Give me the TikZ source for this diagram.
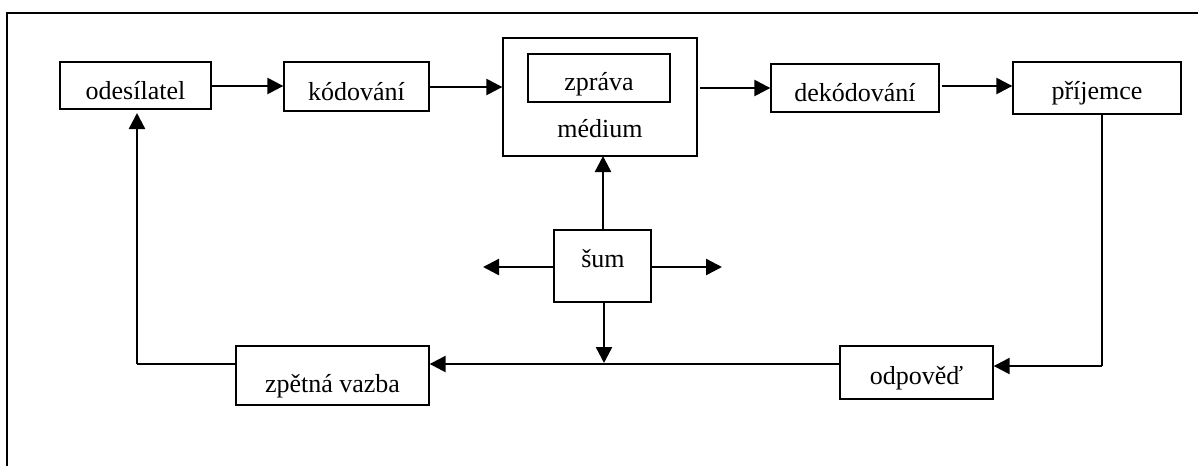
\documentclass[tikz,border=0pt]{standalone}
\usepackage{fontspec}
\setmainfont{Liberation Serif}
\usetikzlibrary{arrows.meta,fit}
\begin{document}
\begin{tikzpicture}[x=0.75pt,y=-0.75pt,
  box/.style={draw=black,line width=1pt,inner sep=0pt,rectangle},
  lbl/.style={anchor=base,inner sep=0pt,font=\fontsize{19.5}{23}\selectfont},
  flow/.style={draw=black,line width=1.8pt,-{Triangle[length=12pt,width=12pt]}},
  thin/.style={draw=black,line width=1.1pt}]
\useasboundingbox (0,0) rectangle (1198,465);
% outer frame
\draw[line width=0.9pt] (7,480) -- (7,13) -- (1210,13);

% boxes
\node[box,fit={(60,62) (211,109)}] (odes) {};
\node[box,fit={(284,62) (429,111)}] (kod) {};
\node[box,fit={(503,38) (697,156)}] (med) {};
\node[box,fit={(528,54) (670,102)}] (zpr) {};
\node[box,fit={(771,64) (939,112)}] (dek) {};
\node[box,fit={(1013,62) (1181,114)}] (prij) {};
\node[box,fit={(554,230) (651,302)}] (sum) {};
\node[box,fit={(236,346) (429,405)}] (zpet) {};
\node[box,fit={(840,346) (993,399)}] (odp) {};

% labels
\node[lbl] (todes) at (135.5,99) {odesílatel};
\node[lbl] (tkod) at (356.5,100) {kódování};
\node[lbl] (tzpr) at (599,90) {zpráva};
\node[lbl] (tmed) at (600,137) {médium};
\node[lbl] (tdek) at (855,101) {dekódování};
\node[lbl] (tprij) at (1097,99) {příjemce};
\node[lbl] (tsum) at (603,267) {šum};
\node[lbl] (tzpet) at (332.5,392) {zpětná vazba};
\node[lbl] (todp) at (916.5,384) {odpověď};

% helper points
\coordinate (r) at (1102,366);
\coordinate (fb) at (604,364);
\coordinate (l) at (137,364);
\coordinate (nl) at (483,267);
\coordinate (nr) at (722,267);

% main chain
\draw[flow] (211,86) -- (kod.west |- 0,86);
\draw[flow] (429,87) -- (med.west |- 0,87);
\draw[flow] (700,88) -- (dek.west |- 0,88);
\draw[flow] (942,86) -- (prij.west |- 0,86);

% reply loop
\draw[thin] (prij.south -| r) -- (r);
\draw[flow] (r) -- (odp.east |- r);
\draw[flow] (odp.west |- fb) -- (zpet.east |- fb);
\draw[thin] (zpet.west |- l) -- (l);
\draw[flow] (l) -- (137,113);

% noise
\draw[flow] (sum.north -| 603,0) -- (603,156);
\draw[flow] (sum.west |- nl) -- (nl);
\draw[flow] (sum.east |- nr) -- (nr);
\draw[flow] (sum.south -| fb) -- (604,363);
\end{tikzpicture}
\end{document}
